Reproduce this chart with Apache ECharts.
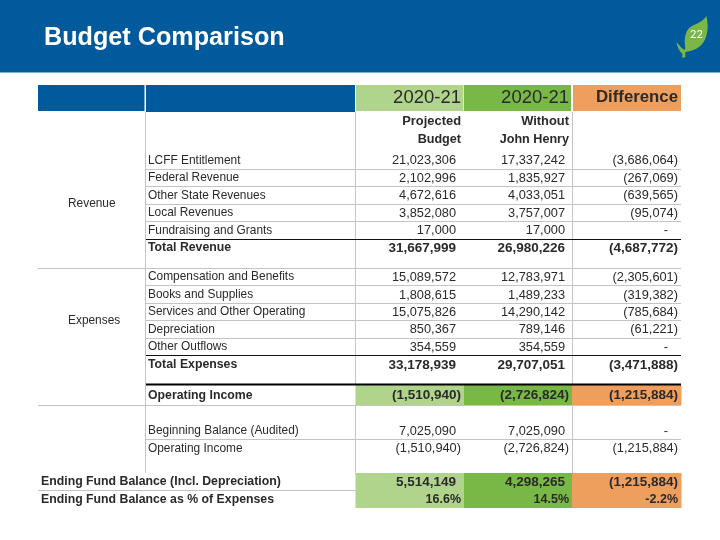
<!DOCTYPE html>
<html><head><meta charset="utf-8">
<style>html,body{margin:0;padding:0;background:#fff}#c{width:720px;height:540px}</style>
<script src="https://cdn.jsdelivr.net/npm/echarts@6/dist/echarts.min.js"></script>
</head><body><div id="c"></div>
<script>
// ---- data ----
const titleText = 'Budget Comparison';
const pageNumber = '22';
const columnHeads = ['2020-21', '2020-21', 'Difference'];
const subHeadA = ['Projected', 'Without'];
const subHeadB = ['Budget', 'John Henry'];
const groupLabels = ['Revenue', 'Expenses'];
const rowLabels = ['LCFF Entitlement','Federal Revenue','Other State Revenues','Local Revenues','Fundraising and Grants','Total Revenue',
  'Compensation and Benefits','Books and Supplies','Services and Other Operating','Depreciation','Other Outflows','Total Expenses',
  'Operating Income','Beginning Balance (Audited)','Operating Income','Ending Fund Balance (Incl. Depreciation)','Ending Fund Balance as % of Expenses'];
const projected = [21023306,2102996,4672616,3852080,17000,31667999,15089572,1808615,15075826,850367,354559,33178939,-1510940,7025090,-1510940,5514149,16.6];
const withoutJH = [17337242,1835927,4033051,3757007,17000,26980226,12783971,1489233,14290142,789146,354559,29707051,-2726824,7025090,-2726824,4298265,14.5];
const difference = [-3686064,-267069,-639565,-95074,0,-4687772,-2305601,-319382,-785684,-61221,0,-3471888,-1215884,0,-1215884,-1215884,-2.2];
const boldRows = [5,11,12,15,16];

// ---- layout ----
const FONT = '"Liberation Sans", sans-serif';
const rowCenter = [160.5,178,195.5,213,230.5,248,277,295,312,329.5,347,365,395.5,431,448.5,482,499.5];
const rightEdge = [456,565,673];
const parenEdge = [461,569,678];
const C = {blue:'#005a9c', g1:'#b0d48c', g2:'#78b846', or:'#ee9f5e', grid:'#c4c4c4', ink:'#2a2a2a'};
const fills = [
 [38,85,144.5,111,C.blue],[146,85,355,112,C.blue],[356,85,463.5,111,C.g1],[464,85,571,111,C.g2],[573,85,681,111,C.or],
 [355.5,385,464,405,C.g1],[464,385,572,405,C.g2],[572,385,681.5,405,C.or],
 [355.5,473,464,490,C.g1],[464,473,572,490,C.g2],[572,473,681.5,490,C.or],
 [355.5,490,464,508,C.g1],[464,490,572,508,C.g2],[572,490,681.5,508,C.or]
];
const rules = [
 [145.5,112,145.5,473,C.grid,1],[355.5,112,355.5,385,C.grid,1],[355.5,405,355.5,473,C.grid,1],[572.5,112,572.5,385,C.grid,1],[572.5,405,572.5,473,C.grid,1],
 [146,169.5,681,169.5,C.grid,1],[146,186.5,681,186.5,C.grid,1],[146,204.5,681,204.5,C.grid,1],[146,221.5,681,221.5,C.grid,1],
 [38,268.5,681,268.5,C.grid,1],[146,285.5,681,285.5,C.grid,1],[146,303.5,681,303.5,C.grid,1],[146,320.5,681,320.5,C.grid,1],[146,338.5,681,338.5,C.grid,1],
 [38,405.5,681,405.5,C.grid,1],[146,439.5,681,439.5,C.grid,1],[38,490.5,356,490.5,C.grid,1],
 [146,239.5,681,239.5,'#111',1],[146,355.5,681,355.5,'#111',1],[146,384.5,681,384.5,'#000',2]
];

function money(v, col, r) {
  if (r === 16) return v.toFixed(1) + '%';
  if (v === 0) return '-';
  const s = Math.abs(v).toLocaleString('en-US');
  return v < 0 ? '(' + s + ')' : s;
}
const texts = [];
const T = (x,y,s,o) => texts.push(Object.assign({x,y,s,align:'left',size:11.9,weight:400},o||{}));
columnHeads.forEach((h,i)=>T(parenEdge[i],97.5,h,{align:'right',size:i===2?16.8:18.5,weight:i===2?700:400}));
subHeadA.forEach((h,i)=>T(parenEdge[i],121,h,{align:'right',size:12.9,weight:700}));
subHeadB.forEach((h,i)=>T(parenEdge[i],140,h,{align:'right',size:12.6,weight:700}));
T(68,204,groupLabels[0]); T(68,321,groupLabels[1]);
rowLabels.forEach((l,r)=>{
  const bold = boldRows.includes(r);
  T(r>=15?41:148,rowCenter[r],l,{weight:bold?700:400,size:bold?12.3:11.9});
  [projected,withoutJH,difference].forEach((arr,c)=>{
    const v = arr[r];
    let x = rightEdge[c];
    if (v<0 || r===16) x = parenEdge[c];
    if (v===0) x = 668;
    T(x,rowCenter[r],money(v,c,r),{align:'right',weight:bold?700:400,size:bold?(r===16?12.5:13.5):12.8});
  });
});

const leafPath = 'M706 16 C701 24 692 24 688 29 C684 34 684 42 685 48 L684 50 C681 48 679 45 676 42 C677 47 679 51 682 54 L682 58 L685 57 L685 52 C693 51 701 48 705 39 C708 31 708 24 706 16 Z';

const chart = echarts.init(document.getElementById('c'), null, {renderer:'canvas'});
chart.setOption({
  animation:false,
  backgroundColor:'#fff',
  title:{text:titleText,left:39,top:18,textStyle:{color:'#fff',fontFamily:FONT,fontSize:25.2,fontWeight:700,lineHeight:30}},
  grid:{left:0,right:0,top:0,bottom:0},
  xAxis:{type:'value',min:0,max:720,show:false},
  yAxis:{type:'value',min:0,max:540,inverse:true,show:false},
  graphic:[
    {type:'rect',z:-1,silent:true,shape:{x:0,y:0,width:720,height:72.5},style:{fill:C.blue}},
    {type:'text',z:10,silent:true,x:696.5,y:34,style:{text:pageNumber,fill:'#fff',font:'11px Lato, sans-serif',align:'center',verticalAlign:'middle'}}
  ],
  series:[
    {type:'custom',coordinateSystem:'cartesian2d',silent:true,clip:false,z:1,data:fills.map(f=>[f[0],f[1],f[2],f[3]]),
     renderItem:(p,api)=>{const a=api.coord([api.value(0),api.value(1)]),b=api.coord([api.value(2),api.value(3)]);
       return {type:'rect',shape:{x:a[0],y:a[1],width:b[0]-a[0],height:b[1]-a[1]},style:{fill:fills[p.dataIndex][4]}};}},
    {type:'custom',coordinateSystem:'cartesian2d',silent:true,clip:false,z:2,data:rules.map(f=>[f[0],f[1],f[2],f[3]]),
     renderItem:(p,api)=>{const a=api.coord([api.value(0),api.value(1)]),b=api.coord([api.value(2),api.value(3)]),r=rules[p.dataIndex];
       return {type:'line',shape:{x1:a[0],y1:a[1],x2:b[0],y2:b[1]},style:{stroke:r[4],lineWidth:r[5]}};}},
    {type:'custom',coordinateSystem:'cartesian2d',silent:true,clip:false,z:3,data:texts.map(t=>[t.x,t.y]),
     renderItem:(p,api)=>{const a=api.coord([api.value(0),api.value(1)]),t=texts[p.dataIndex];
       return {type:'text',x:a[0],y:a[1],style:{text:t.s,fill:C.ink,align:t.align,verticalAlign:'middle',font:t.weight+' '+t.size+'px '+FONT}};}},
    {type:'custom',coordinateSystem:'cartesian2d',silent:true,clip:false,z:5,data:[[676,16,32,42]],
     renderItem:(p,api)=>({type:'path',shape:{pathData:leafPath,x:api.value(0),y:api.value(1),width:api.value(2),height:api.value(3)},style:{fill:'#7ab648'}})}
  ]
});
</script></body></html>
